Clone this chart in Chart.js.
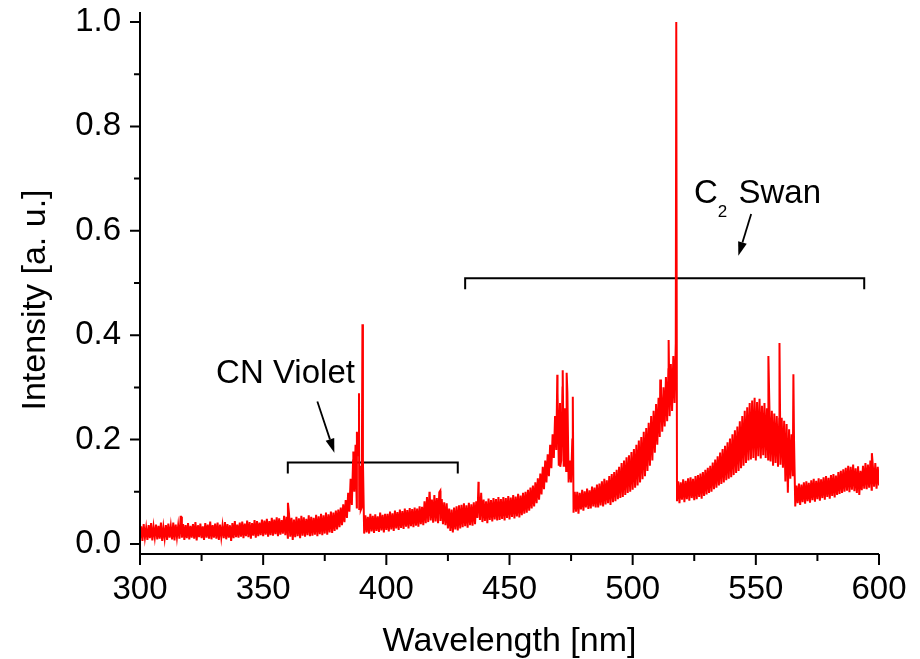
<!DOCTYPE html>
<html>
<head>
<meta charset="utf-8">
<script src="https://cdn.jsdelivr.net/npm/chart.js@4/dist/chart.umd.min.js"></script>
<style>
  html, body { margin: 0; padding: 0; background: #fff; }
  #wrap { width: 920px; height: 659px; }
</style>
</head>
<body>
<div id="wrap"><canvas id="spectrum" width="920" height="659"></canvas></div>
<script>
// Emission spectrum: one bin per nanometre from 300 to 600 nm.
// For every bin the lower and upper edge of the noisy trace are listed.
const firstNm = 300;

const intensityLow = [
  .010,.006,.012,.008,.011,.007,.013,.009,.010,.006, // 300
  .011,.008,.012,.009,.007,.013,.010,.012,.008,.011, // 310
  .009,.012,.010,.007,.013,.011,.008,.012,.010,.009, // 320
  .012,.010,.008,.013,.011,.009,.012,.006,.011,.013, // 330
  .012,.014,.011,.015,.013,.010,.016,.012,.015,.017, // 340
  .015,.018,.014,.017,.016,.019,.015,.018,.020,.017, // 350
  .012,.014,.008,.013,.015,.011,.016,.014,.017,.015, // 360
  .016,.018,.015,.019,.017,.020,.018,.022,.021,.025, // 370
  .028,.032,.036,.042,.050,.062,.075,.100,.070,.065, // 380
  .070,.020,.022,.020,.024,.021,.025,.023,.026,.022, // 390
  .027,.024,.028,.025,.030,.027,.031,.029,.033,.030, // 400
  .034,.032,.035,.033,.038,.036,.040,.042,.045,.041, // 410
  .043,.040,.044,.038,.036,.030,.025,.022,.028,.026, // 420
  .030,.032,.034,.031,.036,.035,.038,.050,.046,.042, // 430
  .044,.040,.046,.043,.047,.045,.046,.048,.045,.050, // 440
  .047,.052,.049,.053,.051,.055,.058,.060,.064,.068, // 450
  .072,.078,.085,.095,.105,.118,.130,.145,.165,.180, // 460
  .150,.160,.150,.140,.118,.118,.060,.062,.058,.066, // 470
  .064,.070,.067,.068,.072,.070,.070,.074,.072,.076, // 480
  .078,.075,.080,.082,.086,.088,.090,.094,.098,.100, // 490
  .104,.108,.112,.118,.124,.130,.140,.150,.160,.175, // 500
  .190,.205,.215,.225,.235,.245,.255,.270,.082,.078, // 510
  .085,.080,.086,.083,.088,.084,.086,.090,.087,.092, // 520
  .095,.098,.100,.105,.108,.112,.115,.118,.122,.125, // 530
  .128,.132,.136,.140,.145,.150,.155,.160,.162,.165, // 540
  .160,.168,.164,.170,.165,.162,.158,.150,.155,.148, // 550
  .152,.146,.120,.098,.125,.130,.072,.078,.075,.080, // 560
  .077,.082,.079,.084,.081,.086,.083,.088,.085,.090, // 570
  .087,.092,.089,.094,.096,.098,.100,.102,.099,.104, // 580
  .101,.098,.094,.103,.106,.105,.108,.104,.110,.106, // 590
  .112                                               // 600
];

const intensityHigh = [
  .034,.038,.031,.036,.040,.033,.037,.035,.041,.032, // 300
  .036,.039,.034,.041,.037,.035,.052,.038,.036,.040, // 310
  .035,.038,.042,.036,.039,.034,.040,.037,.043,.036, // 320
  .039,.041,.037,.035,.042,.038,.036,.040,.044,.037, // 330
  .041,.043,.039,.045,.042,.040,.046,.044,.041,.047, // 340
  .045,.048,.044,.050,.047,.051,.049,.046,.054,.052, // 350
  .058,.050,.047,.052,.049,.054,.051,.048,.055,.052, // 360
  .050,.056,.053,.058,.055,.060,.057,.062,.060,.064, // 370
  .066,.070,.076,.084,.098,.125,.160,.190,.170,.150, // 380
  .160,.055,.052,.058,.054,.057,.053,.060,.056,.058, // 390
  .058,.062,.059,.064,.061,.066,.063,.068,.065,.069, // 400
  .067,.070,.068,.072,.071,.082,.090,.098,.085,.094, // 410
  .088,.099,.086,.080,.078,.068,.066,.070,.072,.074, // 420
  .075,.078,.074,.079,.076,.080,.082,.100,.098,.085, // 430
  .082,.087,.084,.088,.086,.090,.086,.090,.088,.092, // 440
  .089,.094,.091,.096,.093,.098,.100,.104,.108,.112, // 450
  .118,.126,.135,.148,.160,.172,.190,.210,.245,.290, // 460
  .270,.300,.260,.290,.160,.200,.100,.100,.098,.104, // 470
  .101,.106,.103,.110,.108,.114,.116,.120,.125,.122, // 480
  .130,.134,.138,.142,.148,.155,.160,.166,.170,.176, // 490
  .182,.190,.198,.205,.215,.222,.232,.245,.255,.268, // 500
  .280,.290,.300,.320,.335,.345,.360,.385,.120,.118, // 510
  .124,.121,.126,.128,.125,.130,.132,.135,.138,.142, // 520
  .146,.150,.156,.162,.168,.175,.182,.188,.195,.202, // 530
  .210,.218,.225,.235,.245,.255,.262,.270,.275,.280, // 540
  .272,.278,.265,.270,.260,.265,.255,.250,.245,.240, // 550
  .242,.236,.230,.220,.210,.200,.112,.116,.114,.118, // 560
  .120,.117,.122,.125,.121,.126,.124,.128,.130,.127, // 570
  .132,.134,.131,.138,.140,.143,.146,.150,.148,.152, // 580
  .145,.149,.140,.150,.155,.152,.160,.150,.155,.148, // 590
  .145                                               // 600
];

// Narrow emission lines and dips: [wavelength nm, intensity]
const lineSpikes = [
  [316.7, .052], [360.05, .079], [386.6, .177], [388.05, .215], [388.9, .289],
  [389.6, .065], [390.3, .421], [417.6, .100], [421.9, .102], [437.4, .119],
  [469.4, .324], [470.6, .148], [471.6, .333], [472.2, .150], [473.2, .328],
  [475.7, .282], [511.2, .315], [514.6, .391], [517.7, 1.0], [555.1, .360],
  [559.6, .385], [565.25, .325], [597.1, .174]
];

// Axis ticks
const xMajorTicks = [300, 350, 400, 450, 500, 550, 600];
const xMinorTicks = [325, 375, 425, 475, 525, 575];
const yMajorTicks = [0.0, 0.2, 0.4, 0.6, 0.8, 1.0];
const yMinorTicks = [0.1, 0.3, 0.5, 0.7, 0.9];

// Band assignments: bracket span (nm) and level (intensity)
const bandBrackets = [
  { from: 360, to: 429, level: 0.156 },
  { from: 432, to: 594, level: 0.509 }
];
const bandArrows = [
  { from: [372.0, 0.273], to: [378.9, 0.175] },
  { from: [548.1, 0.632], to: [542.9, 0.552] }
];

// Build the trace: lower edge, then upper edge half a bin later, plus lines.
const tracePoints = [];
intensityLow.forEach((lo, i) => {
  const nm = firstNm + i;
  tracePoints.push({ x: nm, y: lo });
  tracePoints.push({ x: nm + 0.5, y: intensityHigh[i] });
});
lineSpikes.forEach(([nm, v]) => tracePoints.push({ x: nm, y: v }));
tracePoints.sort((a, b) => a.x - b.x);

const FONT = '"Liberation Sans", Arial, Helvetica, sans-serif';
const BIG = 33;
const TITLE = 34;

function drawArrow(ctx, x0, y0, x1, y1) {
  const ang = Math.atan2(y1 - y0, x1 - x0);
  const hl = 14, hw = 4.5;
  const bx = x1 - hl * Math.cos(ang), by = y1 - hl * Math.sin(ang);
  ctx.beginPath();
  ctx.moveTo(x0, y0);
  ctx.lineTo(bx, by);
  ctx.stroke();
  ctx.beginPath();
  ctx.moveTo(x1, y1);
  ctx.lineTo(bx + hw * Math.sin(ang), by - hw * Math.cos(ang));
  ctx.lineTo(bx - hw * Math.sin(ang), by + hw * Math.cos(ang));
  ctx.closePath();
  ctx.fill();
}

const annotationsPlugin = {
  id: 'bandAnnotations',
  beforeDatasetsDraw(chart) {
    const { ctx, scales: { x, y } } = chart;
    ctx.save();
    ctx.strokeStyle = '#000';
    ctx.fillStyle = '#000';
    ctx.lineWidth = 2;
    const drop = 11;
    bandBrackets.forEach(b => {
      const x0 = x.getPixelForValue(b.from), x1 = x.getPixelForValue(b.to);
      const yy = y.getPixelForValue(b.level);
      ctx.beginPath();
      ctx.moveTo(x0, yy + drop);
      ctx.lineTo(x0, yy);
      ctx.lineTo(x1, yy);
      ctx.lineTo(x1, yy + drop);
      ctx.stroke();
    });
    ctx.lineWidth = 1.8;
    bandArrows.forEach(a => {
      drawArrow(ctx,
        x.getPixelForValue(a.from[0]), y.getPixelForValue(a.from[1]),
        x.getPixelForValue(a.to[0]), y.getPixelForValue(a.to[1]));
    });

    ctx.textBaseline = 'alphabetic';
    ctx.textAlign = 'left';
    ctx.font = `${BIG}px ${FONT}`;
    ctx.fillText('CN Violet', x.getPixelForValue(330.9), y.getPixelForValue(0.308));

    const cx = x.getPixelForValue(524.9), cy = y.getPixelForValue(0.654);
    ctx.fillText('C', cx, cy);
    const wC = ctx.measureText('C').width;
    ctx.font = `17px ${FONT}`;
    ctx.fillText('2', cx + wC, cy + 14);
    const w2 = ctx.measureText('2').width;
    ctx.font = `${BIG}px ${FONT}`;
    ctx.fillText(' Swan', cx + wC + w2 + 2, cy);

    // vertical axis title
    ctx.save();
    ctx.translate(35.5, 300);
    ctx.rotate(-Math.PI / 2);
    ctx.textAlign = 'center';
    ctx.textBaseline = 'middle';
    ctx.font = `${TITLE}px ${FONT}`;
    ctx.fillText('Intensity [a. u.]', 0, 0);
    ctx.restore();
    ctx.restore();
  },
  afterDatasetsDraw(chart) {
    const { ctx, chartArea: a, scales: { x, y } } = chart;
    ctx.save();
    ctx.strokeStyle = '#000';
    ctx.lineWidth = 2;
    ctx.beginPath();
    ctx.moveTo(a.left, a.top);
    ctx.lineTo(a.left, a.bottom);
    ctx.lineTo(a.right, a.bottom);
    ctx.stroke();
    ctx.beginPath();
    yMajorTicks.forEach(v => { const p = y.getPixelForValue(v); ctx.moveTo(a.left - 10, p); ctx.lineTo(a.left, p); });
    yMinorTicks.forEach(v => { const p = y.getPixelForValue(v); ctx.moveTo(a.left - 6, p); ctx.lineTo(a.left, p); });
    xMajorTicks.forEach(v => { const p = x.getPixelForValue(v); ctx.moveTo(p, a.bottom); ctx.lineTo(p, a.bottom + 11); });
    xMinorTicks.forEach(v => { const p = x.getPixelForValue(v); ctx.moveTo(p, a.bottom); ctx.lineTo(p, a.bottom + 7); });
    ctx.stroke();
    ctx.restore();
  }
};

new Chart(document.getElementById('spectrum'), {
  type: 'line',
  data: {
    datasets: [{
      data: tracePoints,
      borderColor: '#ff0000',
      borderWidth: 2,
      pointRadius: 0,
      tension: 0,
      fill: false
    }]
  },
  options: {
    responsive: false,
    maintainAspectRatio: false,
    animation: false,
    parsing: false,
    normalized: true,
    layout: { padding: { top: 12, right: 41, bottom: 0, left: 0 } },
    plugins: { legend: { display: false }, tooltip: { enabled: false } },
    scales: {
      x: {
        type: 'linear',
        min: 300,
        max: 600,
        grid: { display: false, drawTicks: false },
        border: { display: false },
        afterBuildTicks: s => { s.ticks = xMajorTicks.map(v => ({ value: v })); },
        afterFit: s => { s.height = 105; s.paddingLeft = 0; s.paddingRight = 0; },
        ticks: {
          color: '#000',
          padding: 16,
          maxRotation: 0,
          autoSkip: false,
          font: { family: FONT, size: BIG },
          callback: v => String(v)
        },
        title: {
          display: true,
          text: 'Wavelength [nm]',
          color: '#000',
          font: { family: FONT, size: TITLE, lineHeight: 1 },
          padding: { top: 0, bottom: 0 }
        }
      },
      y: {
        type: 'linear',
        min: -10 / 522,
        max: 1 + 10 / 522,
        grid: { display: false, drawTicks: false },
        border: { display: false },
        afterBuildTicks: s => { s.ticks = yMajorTicks.map(v => ({ value: v })); },
        afterFit: s => { s.width = 140; s.paddingTop = 0; s.paddingBottom = 0; },
        ticks: {
          color: '#000',
          padding: 19,
          autoSkip: false,
          font: { family: FONT, size: BIG },
          callback: v => Number(v).toFixed(1)
        },
        title: { display: false }
      }
    }
  },
  plugins: [annotationsPlugin]
});
</script>
</body>
</html>
